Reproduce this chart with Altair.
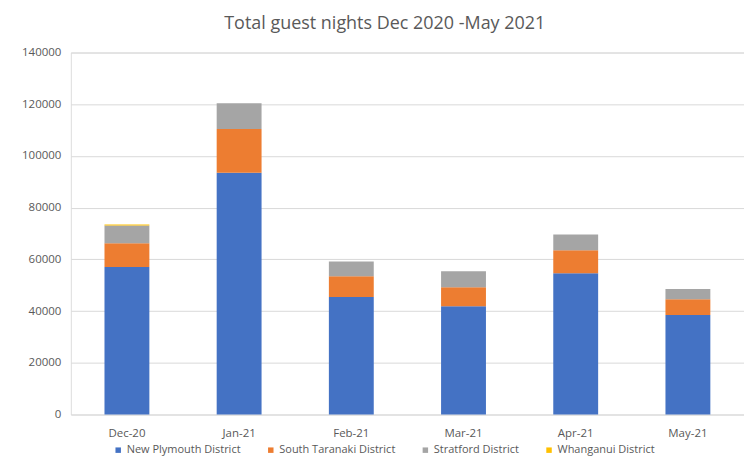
import altair as alt
import pandas as pd

months = ["Dec-20", "Jan-21", "Feb-21", "Mar-21", "Apr-21", "May-21"]
districts = ["New Plymouth District", "South Taranaki District", "Stratford District", "Whanganui District"]
new_plymouth = [57000, 93500, 45400, 41900, 54600, 38500]
south_taranaki = [9200, 16900, 8100, 7300, 8900, 6100]
stratford = [6900, 10000, 5700, 6200, 6100, 3900]
whanganui = [400, 0, 0, 0, 0, 0]
colors = ["#4472C4", "#ED7D31", "#A5A5A5", "#FFC000"]

series = [new_plymouth, south_taranaki, stratford, whanganui]
rows = []
for k, (name, vals) in enumerate(zip(districts, series)):
    for m, v in zip(months, vals):
        rows.append({"month": m, "district": name, "value": v, "order": k})
df = pd.DataFrame(rows)

FONT = "Open Sans"
TXT = "#595959"

chart = alt.Chart(df).mark_bar().encode(
    x=alt.X("month:N", sort=months, title=None,
            scale=alt.Scale(paddingInner=0.6, paddingOuter=0.3),
            axis=alt.Axis(labelAngle=0, domain=False, ticks=False, labelPadding=13,
                          labelFont=FONT, labelFontSize=11.5, labelColor=TXT)),
    y=alt.Y("value:Q", title=None, stack="zero",
            scale=alt.Scale(domain=[0, 140000], nice=False),
            axis=alt.Axis(values=[0, 20000, 40000, 60000, 80000, 100000, 120000, 140000],
                          format="d", domain=False, ticks=False, labelPadding=10,
                          gridColor="#D9D9D9", gridWidth=1,
                          labelFont=FONT, labelFontSize=11.5, labelColor=TXT)),
    color=alt.Color("district:N", sort=districts,
                    scale=alt.Scale(domain=districts, range=colors),
                    legend=alt.Legend(title=None, orient="none", direction="horizontal",
                                      columns=4, legendX=42, legendY=393,
                                      symbolType="square", symbolSize=30,
                                      symbolStrokeWidth=0, columnPadding=24,
                                      labelOffset=3, labelFont=FONT, labelFontSize=11,
                                      labelColor=TXT)),
    order=alt.Order("order:Q", sort="ascending"),
).properties(
    width=675,
    height=363,
    title=alt.TitleParams("Total guest nights Dec 2020 -May 2021", font=FONT, fontSize=18,
                          fontWeight="normal", color=TXT, anchor="middle", frame="bounds",
                          offset=14, dx=2),
    autosize=alt.AutoSizeParams(type="none"),
    padding={"left": 63, "top": 44, "right": 0, "bottom": 43},
).configure_view(strokeWidth=0).configure(background="white")

chart.save("out.html", embed_options={"renderer": "svg", "actions": False})
